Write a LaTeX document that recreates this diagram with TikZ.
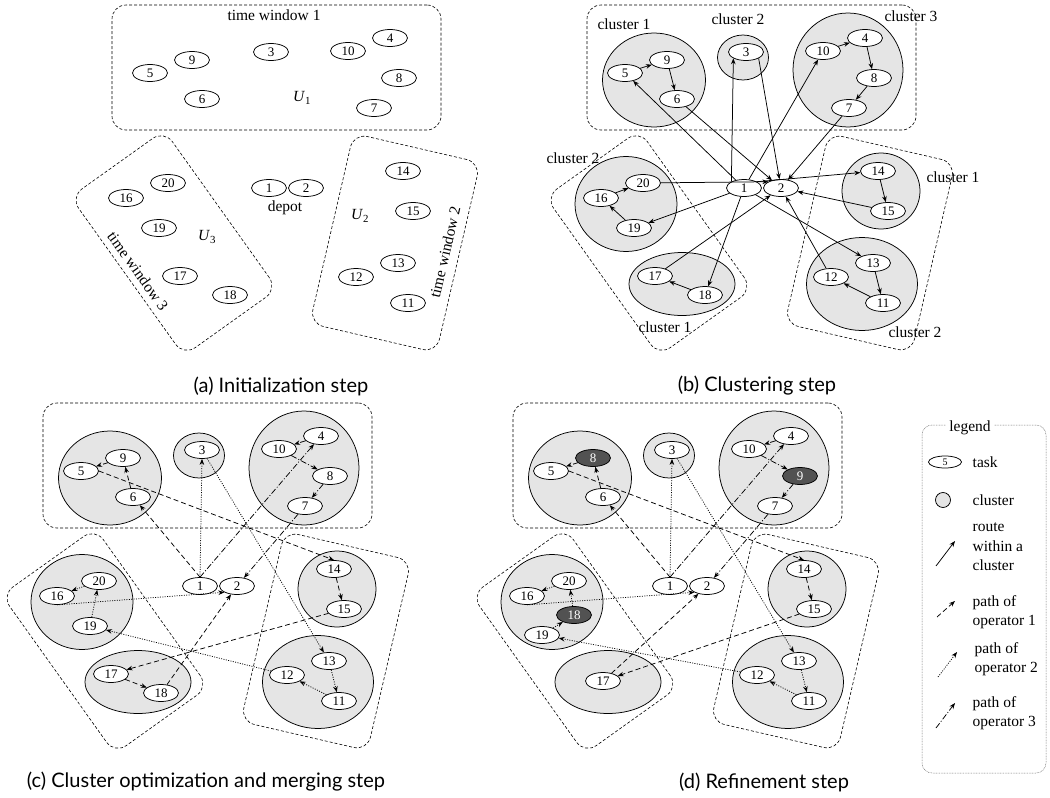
\documentclass[tikz,border=0pt]{standalone}
\usepackage{fontspec}
\setmainfont{Liberation Serif}
\newfontfamily\CapFont{Lato}
\usepackage{tikz}
\usetikzlibrary{arrows.meta,shapes.geometric}
\definecolor{ClusterFill}{gray}{0.9}
\definecolor{MovedFill}{gray}{0.32}
\definecolor{LegendInk}{gray}{0.45}
\tikzset{
  figure/.style={x=1pt,y=-1pt,font=\fontsize{13}{15}\selectfont,line width=0.75pt,
    >={Stealth[length=6pt,width=4.6pt]}},
  task/.style={ellipse,draw,fill=white,minimum width=35pt,minimum height=17pt,inner sep=0pt},
  moved/.style={task,fill=MovedFill,text=white},
  cluster/.style={ellipse,draw,fill=ClusterFill,inner sep=0pt},
  window/.style={draw,line width=0.6pt,dash pattern=on 3pt off 2pt,rounded corners=14pt,inner sep=0pt},
  tag/.style={font=\fontsize{15.5}{19.5}\selectfont},
  caption/.style={font=\CapFont\fontsize{20}{24}\selectfont},
  route/.style={->},
  opone/.style={->,dash pattern=on 5pt off 3pt},
  optwo/.style={->,dash pattern=on 1pt off 1.4pt},
  opthree/.style={->,dash pattern=on 6pt off 2pt on 1pt off 2pt},
}
% the three time windows, same in every panel
\newcommand{\WindowFrames}{%
  \node[window,minimum width=329pt,minimum height=125pt] (tw1) at (276.5,67.5) {};
  \node[window,minimum width=195pt,minimum height=115pt,rotate=-54.5] (tw3) at (174,243) {};
  \node[window,minimum width=130pt,minimum height=195pt,rotate=-13] (tw2) at (395,243) {};
}
\newcommand{\ClusterDisks}{%
  \node[cluster,minimum width=103pt,minimum height=94pt] (w1c1) at (179,80) {};
  \node[cluster,minimum width=51pt,minimum height=45pt] (w1c2) at (268,57.5) {};
  \node[cluster,minimum width=110pt,minimum height=114pt] (w1c3) at (373,70) {};
  \node[cluster,minimum width=102pt,minimum height=95pt] (w3c2) at (151,204) {};
  \node[cluster,minimum width=106pt,minimum height=63pt] (w3c1) at (207,284) {};
  \node[cluster,minimum width=78pt,minimum height=76pt] (w2c1) at (406,191) {};
  \node[cluster,minimum width=111pt,minimum height=93pt] (w2c2) at (387,284) {};
}
% tasks that keep their place in all four panels
\newcommand{\SharedTasks}{%
  \node[task] (t1) at (269,188) {1};
  \node[task] (t2) at (306,188) {2};
  \node[task] (t3) at (271,52) {3};
  \node[task] (t4) at (390,38) {4};
  \node[task] (t5) at (150,73) {5};
  \node[task] (t6) at (202,99) {6};
  \node[task] (t7) at (374,108) {7};
  \node[task] (t10) at (348,51) {10};
  \node[task] (t11) at (408,303) {11};
  \node[task] (t12) at (356,277) {12};
  \node[task] (t13) at (398,263) {13};
  \node[task] (t14) at (403,171) {14};
  \node[task] (t15) at (413,211) {15};
  \node[task] (t16) at (126,198) {16};
  \node[task] (t20) at (168,183) {20};
}
\newcommand{\FirstTasks}{%
  \node[task] (t8) at (399,78) {8};
  \node[task] (t9) at (192,60) {9};
  \node[task] (t17) at (180,276) {17};
  \node[task] (t18) at (230,295) {18};
  \node[task] (t19) at (159,228) {19};
}

\begin{document}
\begin{tikzpicture}[figure]
  \useasboundingbox (0,0) rectangle (1050,798);

  % (a)
  \begin{scope}[name prefix=a-]
    \WindowFrames
    \SharedTasks
    \FirstTasks
    \node[tag] (tw1name) at (274,15) {time window 1};
    \node[tag] (u1) at (302,98) {\textit{U}\textsubscript{1}};
    \node[tag] (depotname) at (285,208) {depot};
    \node[tag] (u3) at (207,237) {\textit{U}\textsubscript{3}};
    \node[tag] (u2) at (360,216) {\textit{U}\textsubscript{2}};
    \node[tag,rotate=-54.5] (tw3name) at (138,271) {time window 3};
    \node[tag,rotate=77] (tw2name) at (445,252) {time window 2};
  \end{scope}

  % (b)
  \begin{scope}[shift={(475,0)},name prefix=b-]
    \ClusterDisks
    \WindowFrames
    \SharedTasks
    \FirstTasks
    \node[tag] (w1c1name) at (149,24) {cluster 1};
    \node[tag] (w1c2name) at (263,19) {cluster 2};
    \node[tag] (w1c3name) at (436,16) {cluster 3};
    \node[tag] (w3c2name) at (98,158) {cluster 2};
    \node[tag] (w3c1name) at (190,327) {cluster 1};
    \node[tag] (w2c1name) at (478,177) {cluster 1};
    \node[tag] (w2c2name) at (440,332) {cluster 2};
    \draw[route] (t1) -- (t5);
    \draw[route] (t5) -- (t9);
    \draw[route] (t9) -- (t6);
    \draw[route] (t6) -- (t2);
    \draw[route] (t1.north west) -- (t3.south west);
    \draw[route] (t3.south east) -- (t2);
    \draw[route] (t1) -- (t10);
    \draw[route] (t10) -- (t4);
    \draw[route] (t4) -- (t8);
    \draw[route] (t8) -- (t7);
    \draw[route] (t7) -- (t2);
    \draw[route] (t1.north east) -- (t14);
    \draw[route] (t14) -- (t15);
    \draw[route] (t15) -- (t2);
    \draw[route] (t1) -- (t13);
    \draw[route] (t13) -- (t11);
    \draw[route] (t11) -- (t12);
    \draw[route] (t12) -- (t2);
    \draw[route] (t1) -- (t18);
    \draw[route] (t18) -- (t17);
    \draw[route] (t17) -- (t2);
    \draw[route] (t1) -- (t19);
    \draw[route] (t19) -- (t16);
    \draw[route] (t16) -- (t20);
    \draw[route] (t20) -- (t2.north west);
  \end{scope}

  % (c)
  \begin{scope}[shift={(-69,398)},name prefix=c-]
    \ClusterDisks
    \WindowFrames
    \SharedTasks
    \FirstTasks
    \draw[opone] (t1.north) -- (t6);
    \draw[opone] (t6) -- (t9);
    \draw[opone] (t9) -- (t5);
    \draw[opone] (t5.east) -- (t14.north);
    \draw[opone] (t14) -- (t15);
    \draw[opone] (t15) -- (t17);
    \draw[opone] (t17) -- (t18);
    \draw[opone] (t18) -- (t2);
    \draw[optwo] (t1.north) -- (t3.south);
    \draw[optwo] (t3) -- (t13);
    \draw[optwo] (t13) -- (t11);
    \draw[optwo] (t11) -- (t12);
    \draw[optwo] (t12) -- (t19);
    \draw[optwo] (t19) -- (t20);
    \draw[optwo] (t20) -- (t16);
    \draw[optwo] (t16.south) -- (t2.south west);
    \draw[opthree] (t1.north) -- (t4);
    \draw[opthree] (t4) -- (t10);
    \draw[opthree] (t10) -- (t8);
    \draw[opthree] (t8) -- (t7);
    \draw[opthree] (t7) -- (t2);
  \end{scope}

  % (d)
  \begin{scope}[shift={(401,398)},name prefix=d-]
    \ClusterDisks
    \WindowFrames
    \SharedTasks
    \node[moved] (t8) at (192,60) {8};
    \node[moved] (t9) at (399,78) {9};
    \node[moved] (t18) at (173,217) {18};
    \node[task] (t19) at (141,237) {19};
    \node[task] (t17) at (202,283) {17};
    \draw[opone] (t1.north) -- (t6);
    \draw[opone] (t6) -- (t8);
    \draw[opone] (t8) -- (t5);
    \draw[opone] (t5.east) -- (t14.north);
    \draw[opone] (t14) -- (t15);
    \draw[opone] (t15) -- (t17);
    \draw[opone] (t17) -- (t2);
    \draw[optwo] (t1.north) -- (t3.south);
    \draw[optwo] (t3) -- (t13);
    \draw[optwo] (t13) -- (t11);
    \draw[optwo] (t11) -- (t12);
    \draw[optwo] (t12) -- (t19);
    \draw[optwo] (t19) -- (t18);
    \draw[optwo] (t18) -- (t20);
    \draw[optwo] (t20) -- (t16);
    \draw[optwo] (t16.south) -- (t2.south west);
    \draw[opthree] (t1.north) -- (t4);
    \draw[opthree] (t4) -- (t10);
    \draw[opthree] (t10) -- (t9);
    \draw[opthree] (t9) -- (t7);
    \draw[opthree] (t7) -- (t2);
  \end{scope}

  % legend
  \node[draw=LegendInk,line width=0.5pt,dash pattern=on 0.8pt off 0.8pt,rounded corners=10pt,
        minimum width=124pt,minimum height=348pt] (legendbox) at (984,599) {};
  \node[tag,fill=white,inner xsep=3pt,inner ysep=1pt] (legendtitle) at (970,428) {legend};
  \node[task,minimum width=33pt,minimum height=12pt,font=\fontsize{10}{10}\selectfont] (keytask) at (945,462) {5};
  \node[tag,anchor=west] (keytasktext) at (969,462) {task};
  \node[cluster,minimum width=15pt,minimum height=15pt] (keycluster) at (943,500) {};
  \node[tag,anchor=west] (keyclustertext) at (969,500) {cluster};
  \coordinate (keyroutefrom) at (936,566);
  \coordinate (keyrouteto) at (955,541);
  \draw[route] (keyroutefrom) -- (keyrouteto);
  \node[tag,anchor=west,align=left] (keyroutetext) at (969,547) {route\\within a\\cluster};
  \coordinate (keyonefrom) at (937,617);
  \coordinate (keyoneto) at (955,601);
  \draw[opone] (keyonefrom) -- (keyoneto);
  \node[tag,anchor=west,align=left] (keyonetext) at (969,612) {path of\\operator 1};
  \coordinate (keytwofrom) at (938,677);
  \coordinate (keytwoto) at (957,652);
  \draw[optwo] (keytwofrom) -- (keytwoto);
  \node[tag,anchor=west,align=left] (keytwotext) at (971,659) {path of\\operator 2};
  \coordinate (keythreefrom) at (936,728);
  \coordinate (keythreeto) at (955,703);
  \draw[opthree] (keythreefrom) -- (keythreeto);
  \node[tag,anchor=west,align=left] (keythreetext) at (969,713) {path of\\operator 3};

  % captions
  \node[caption] (capA) at (281,386) {(a) Initialization step};
  \node[caption] (capB) at (757,386) {(b) Clustering step};
  \node[caption] (capC) at (206,782) {(c) Cluster optimization and merging step};
  \node[caption] (capD) at (764,782) {(d) Refinement step};
\end{tikzpicture}
\end{document}
